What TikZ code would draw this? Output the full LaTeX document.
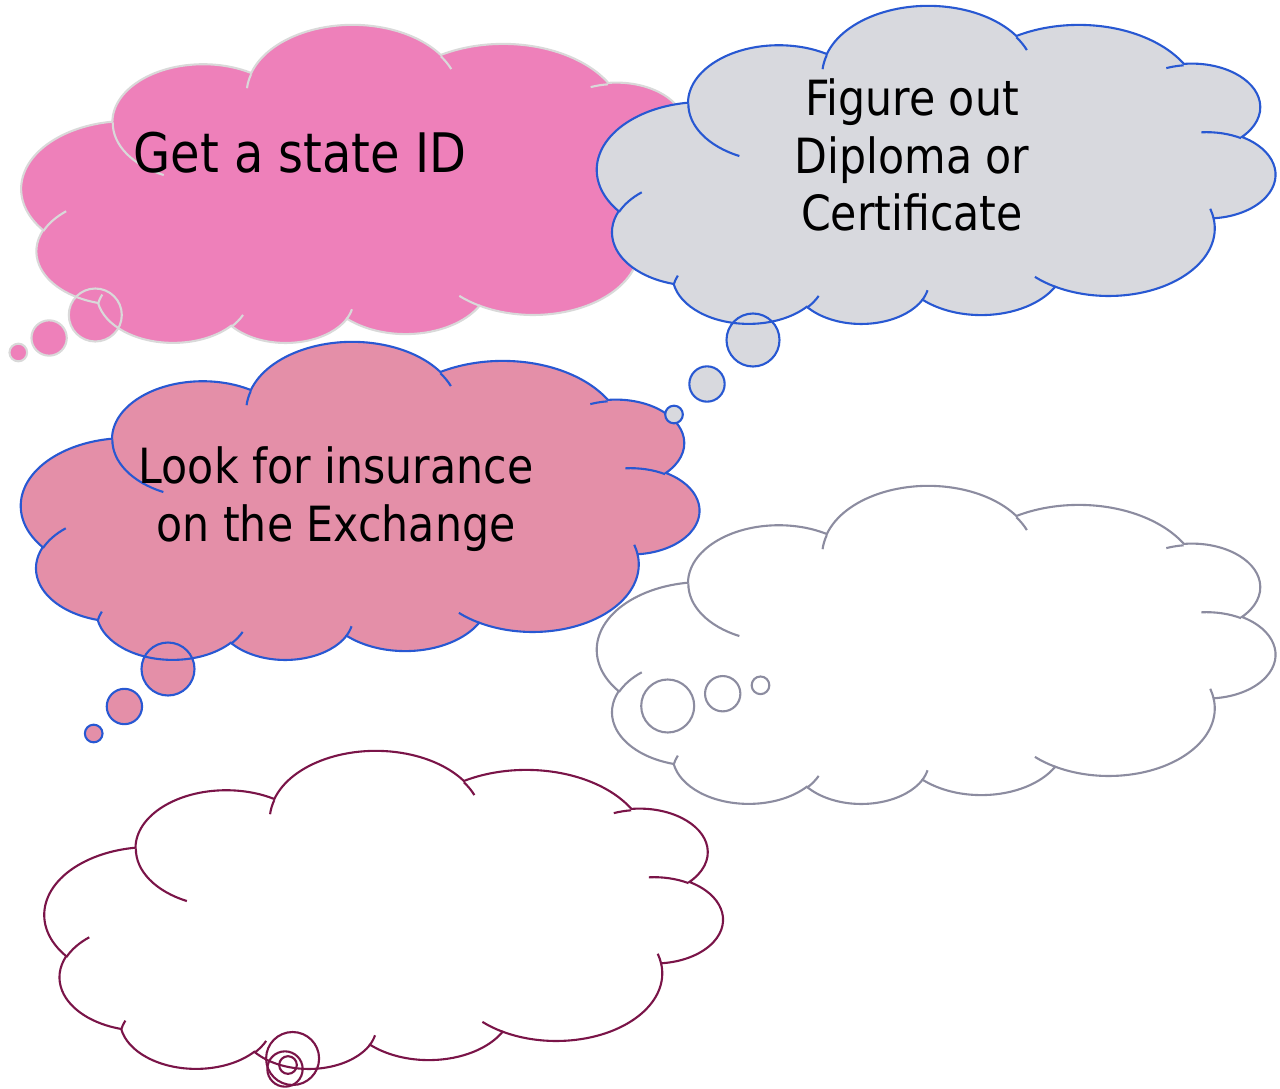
\documentclass[tikz,border=0pt]{standalone}
\usepackage{fontspec}
\setmainfont{DejaVu Sans}[FakeStretch=0.88]

\definecolor{cloudpink}{RGB}{238,128,186}
\definecolor{cloudrose}{RGB}{228,143,168}
\definecolor{cloudgray}{RGB}{216,217,222}
\definecolor{edgegray}{RGB}{217,217,217}
\definecolor{edgeblue}{RGB}{40,88,210}
\definecolor{edgeslate}{RGB}{140,140,160}
\definecolor{edgewine}{RGB}{122,20,72}

\newcommand{\cloudw}{15.694}
\newcommand{\cloudh}{7.361}

% one lobe: wR, hR, start and sweep of the preset cloud (turned half round)
\newcommand{\puff}[4]{arc [start angle={180-lobe(#1,#2,#3)},
  end angle={180-lobe(#1,#2,#3)-mod(lobe(#1,#2,#3+#4)-lobe(#1,#2,#3)+720,360)},
  x radius={#1*\cloudw*1pt}, y radius={#2*\cloudh*1pt}]}

\newcommand{\cloudoutline}{(-3.900*\cloudw,-14.370*\cloudh)
  \puff{6.753}{9.190}{-190.4875}{123.7805}
  \puff{5.333}{7.267}{-144.1024}{89.9452}
  \puff{4.365}{5.945}{-145.8079}{99.7230}
  \puff{4.857}{6.595}{-130.9861}{117.2417}
  \puff{5.333}{7.273}{-78.7089}{109.0269}
  \puff{6.775}{9.220}{-46.2673}{130.2690}
  \puff{5.785}{7.867}{0.6250}{114.0333}
  \puff{6.752}{9.215}{22.4516}{115.1726}
  \puff{7.720}{10.543}{66.2426}{75.7110}
  \puff{4.360}{5.918}{-274.9421}{146.7356}
  \puff{4.345}{5.945}{-246.8285}{152.5189} -- cycle}

\newcommand{\cloudcreases}{
  (-4.693*\cloudw,-26.177*\cloudh) \puff{4.345}{5.945}{86.7420}{26.4295}
  (-6.928*\cloudw,-34.899*\cloudh) \puff{4.360}{5.918}{73.6105}{11.4475}
  (-16.478*\cloudw,-39.090*\cloudh) \puff{6.752}{9.215}{137.6242}{14.0811}
  (-28.827*\cloudw,-34.751*\cloudh) \puff{6.752}{9.215}{6.4533}{15.9984}
  (-34.129*\cloudw,-22.954*\cloudh) \puff{5.785}{7.867}{-70.2924}{70.9174}
  (-41.798*\cloudw,-15.354*\cloudh) \puff{5.333}{7.273}{30.3180}{27.7515}
  (-38.324*\cloudw,-5.426*\cloudh) \puff{4.857}{6.595}{13.7443}{14.8589}
  (-29.078*\cloudw,-3.952*\cloudh) \puff{4.857}{6.595}{-149.1815}{18.1954}
  (-22.141*\cloudw,-4.720*\cloudh) \puff{4.365}{5.945}{-163.4943}{17.6864}
  (-14.000*\cloudw,-5.192*\cloudh) \puff{6.753}{9.190}{-66.7070}{12.3194}
  (-4.127*\cloudw,-15.789*\cloudh) \puff{6.753}{9.190}{157.6544}{11.8582}}

% corner (right, bottom), fill, edge, bubbles x/y/r
\newcommand{\thought}[4]{%
  \path [fill=#2, shift={#1}] \cloudoutline;
  \foreach \bx/\by/\br in {#4} \path [fill=#2] (\bx,\by) circle [radius=\br];
  \draw [#3, shift={#1}] \cloudoutline;
  \foreach \bx/\by/\br in {#4} \draw [#3] (\bx,\by) circle [radius=\br];
  \draw [#3, shift={#1}] \cloudcreases;
}

\begin{document}
\begin{tikzpicture}[x=1pt, y=-1pt, line width=2.1pt,
    declare function={lobe(\a,\b,\t)=atan2(\a*sin(\t),\b*cos(\t));},
    saying/.style={inner sep=0pt, align=center, font=\fontsize{48.5}{57.5}\selectfont}]
    \useasboundingbox (0,0) rectangle (1280,1089);

    \thought{(699.4,344)}{cloudpink}{edgegray}
        {18.3/352.5/8.83, 49.1/338/17.67, 95.3/315/26.5}
    \thought{(699,661)}{cloudrose}{edgeblue}
        {93.7/733.5/8.83, 124.4/706.5/17.67, 168/669/26.5}
    \thought{(1275,325)}{cloudgray}{edgeblue}
        {674/414.5/8.83, 707/384/17.67, 753/340/26.5}
    \thought{(1275,805)}{white}{edgeslate}
        {760.5/685.3/8.83, 722.7/693.7/17.67, 667.7/706/26.5}
    \thought{(722.5,1070)}{white}{edgewine}
        {288/1065/8.83, 285/1069/17.67, 292.6/1058.5/26.5}

    \path (300,172) node [anchor=base, inner sep=0pt, font=\fontsize{54.5}{66}\selectfont] (stateid) {Get a state ID};
    \path (912,78) node [saying, anchor=north] (diploma) {Figure out\\Diploma or\\Certificate};
    \path (336,446) node [saying, anchor=north] (insurance) {Look for insurance\\on the Exchange};
\end{tikzpicture}
\end{document}
